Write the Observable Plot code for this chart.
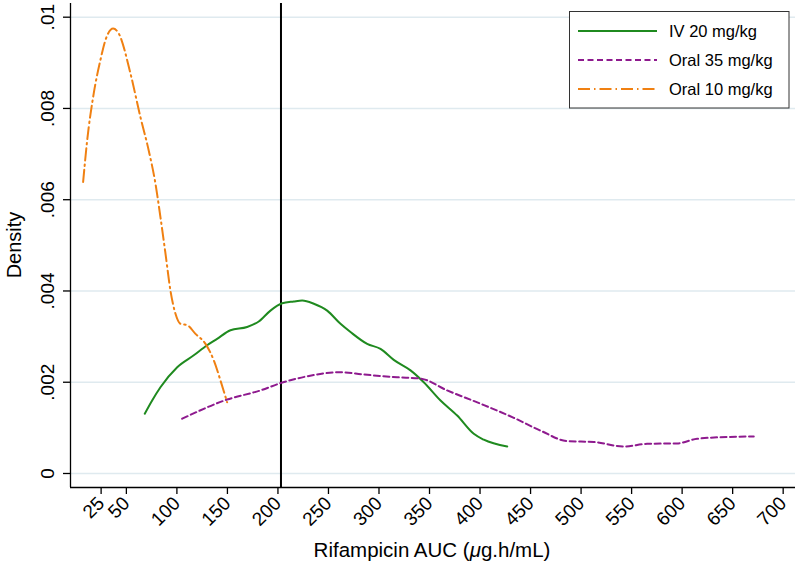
<!DOCTYPE html>
<html><head><meta charset="utf-8">
<script src="https://cdn.jsdelivr.net/npm/d3@7"></script>
<script src="https://cdn.jsdelivr.net/npm/@observablehq/plot@0.6"></script>
<style>body{margin:0;background:#fff} #chart{width:800px;height:564px}</style>
</head><body><div id="chart"></div><script>
// ---- data ----
const seriesNames = ["IV 20 mg/kg", "Oral 35 mg/kg", "Oral 10 mg/kg"];
const seriesColors = ["#1f8a1f", "#8e1a8e", "#f08012"];
const seriesDash = ["none", "6,3.5", "12,4,1.5,4"];

const aucIV20 = [68.2,75.5,83.7,100.3,116.7,129.9,139.8,153.0,169.5,181.0,192.6,204.2,215.7,224.0,235.5,248.7,261.9,271.8,288.3,301.5,314.6,331.2,344.3,360.9,377.4,393.8,403.7,426.9];
const densIV20 = [.00131,.00160,.00189,.00233,.00259,.00281,.00295,.00314,.00321,.00333,.00357,.00373,.00377,.00379,.00372,.00357,.00328,.00310,.00284,.00273,.00249,.00226,.00200,.00160,.00127,.00087,.00074,.00059];

const aucOral35 = [105.2,149.7,182.7,202.5,228.9,261.9,284.9,318.0,341.1,367.5,400.4,433.4,459.8,486.2,512.6,542.3,565.4,595.1,614.9,644.6,670.9];
const densOral35 = [.00120,.00162,.00182,.00198,.00213,.00222,.00217,.00211,.00208,.00182,.00153,.00122,.00094,.00071,.00069,.00059,.00065,.00066,.00076,.00080,.00081];

const aucOral10 = [7.2,11.2,17.7,24.3,29.3,36.9,42.5,54.0,63.9,72.1,78.8,83.7,88.7,93.6,98.6,103.5,110.2,118.4,128.3,136.5,143.1,149.7];
const densOral10 = [.00639,.00730,.00833,.00906,.00950,.00975,.00964,.00877,.00781,.00708,.00635,.00562,.00482,.00401,.00350,.00328,.00325,.00306,.00284,.00248,.00204,.00156];

const xTicks = [25,50,100,150,200,250,300,350,400,450,500,550,600,650,700];
const yTicks = [0,0.002,0.004,0.006,0.008,0.01];
const yTickLabels = ["0",".002",".004",".006",".008",".01"];
const threshold = 203;
const xTitle = ["Rifampicin AUC (", "\u03bc", "g.h/mL)"];
const yTitle = "Density";

// ---- build ----
const rows = [];
[[aucIV20, densIV20], [aucOral35, densOral35], [aucOral10, densOral10]].forEach(([xs, ys], s) => {
  xs.forEach((x, i) => rows.push({series: seriesNames[s], auc: x, dens: ys[i]}));
});
const xDomain = [-5.3, 712.2];
const yDomain = [-0.000307, 0.0103];
const font = "'Liberation Sans', Arial, Helvetica, sans-serif";

const lines = seriesNames.map((name, s) =>
  Plot.line(rows.filter(r => r.series === name), {
    x: "auc", y: "dens", stroke: seriesColors[s], strokeWidth: 2,
    strokeDasharray: seriesDash[s], curve: "monotone-x"
  }));

const plot = Plot.plot({
  width: 800, height: 564,
  marginLeft: 70, marginRight: 5, marginTop: 3, marginBottom: 77,
  style: {fontFamily: font, fontSize: "19px", background: "#fff", color: "#000"},
  x: {domain: xDomain},
  y: {domain: yDomain},
  marks: [
    Plot.gridY(yTicks, {stroke: "#dfeaef", strokeOpacity: 1, strokeWidth: 1.5}),
    Plot.ruleX([threshold], {stroke: "#000", strokeWidth: 2}),
    ...lines,
    Plot.ruleY([yDomain[0]], {stroke: "#000", strokeWidth: 1.3}),
    Plot.ruleX([xDomain[0]], {stroke: "#000", strokeWidth: 1.3}),
    Plot.axisX(xTicks, {tickSize: 7, tickRotate: -45, label: null, strokeWidth: 1.3}),
    Plot.axisY(yTicks, {tickSize: 7, tickRotate: -90, tickPadding: 10, label: null,
      strokeWidth: 1.3, tickFormat: d => yTickLabels[yTicks.indexOf(d)]})
  ]
});

const svg = d3.select(plot);
svg.selectAll('g[aria-label$="tick label"]').style("font-size", "19px");
svg.selectAll('g[aria-label$="tick label"] text').style("font-size", "19px");
// y title
svg.append("text").attr("transform", "translate(20.5,245) rotate(-90)")
  .attr("text-anchor", "middle").attr("font-family", font).attr("font-size", 20)
  .attr("fill", "#000").text(yTitle);
// x title
const xt = svg.append("text").attr("x", 432).attr("y", 556.5)
  .attr("text-anchor", "middle").attr("font-family", font).attr("font-size", 20.5).attr("fill", "#000");
xt.append("tspan").text(xTitle[0]);
xt.append("tspan").attr("font-style", "italic").text(xTitle[1]);
xt.append("tspan").text(xTitle[2]);

// legend
const lg = svg.append("g");
lg.append("rect").attr("x", 569.5).attr("y", 11.5).attr("width", 219.5).attr("height", 96.5)
  .attr("fill", "#fff").attr("stroke", "#333").attr("stroke-width", 1);
seriesNames.forEach((name, s) => {
  const y = 31 + s * 29;
  lg.append("line").attr("x1", 578).attr("x2", 657).attr("y1", y).attr("y2", y)
    .attr("stroke", seriesColors[s]).attr("stroke-width", 2)
    .attr("stroke-dasharray", seriesDash[s] === "none" ? null : seriesDash[s]);
  lg.append("text").attr("x", 669).attr("y", y + 6.3).attr("text-anchor", "start")
    .attr("font-family", font).attr("font-size", 16.5).attr("fill", "#000").text(name);
});

document.getElementById("chart").appendChild(plot);
</script></body></html>
